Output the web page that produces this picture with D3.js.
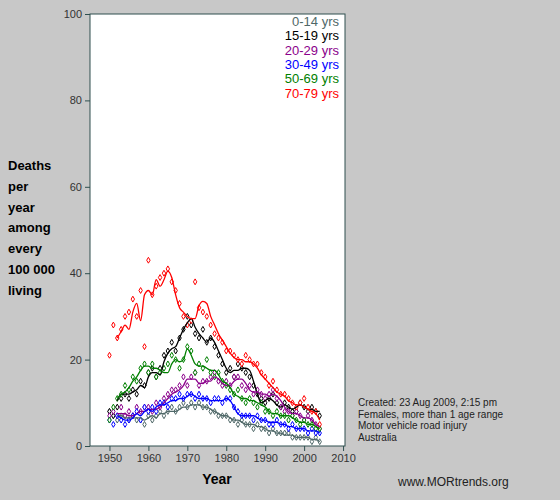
<!DOCTYPE html>
<html lang="en">
<head>
<meta charset="UTF-8">
<script src="https://d3js.org/d3.v7.min.js"></script>
<style>
  body { margin: 0; background: #c8c8c8; font-family: Arial, "Liberation Sans", sans-serif; }
  .tick text { fill: #333; font-size: 11px; }
</style>
</head>
<body>
<svg id="chart" width="560" height="500"></svg>
<script>
const seriesNames = ["0-14 yrs", "15-19 yrs", "20-29 yrs", "30-49 yrs", "50-69 yrs", "70-79 yrs"];
const seriesColors = ["#4f6868", "#000000", "#8b008b", "#0000ff", "#008000", "#ff0000"];

// yearly dots, 1950..2004
const dots0_14  = [8,7,6,7,7,6,7,6,6,5, 7,6,7,8,7, 8,9,8,9,10, 9,10,9,10,9, 9,8,8,7,7, 7,6,6,5,6, 5,5,4,5,4, 4,3,4,3,3, 3,3,2,2,2, 2,2,1,2,1];
const dots15_19 = [8,7,9,11,12,11,13,12,15,14, 17,18,16,18,21, 22,24,22,25,27, 30,28,26,25,27, 24,25,23,21,19, 17,18,16,19,18, 17,16,14,12,11, 10,11,12,10,9, 10,9,8,8,10, 9,8,9,8,7];
const dots20_29 = [7,8,7,9,7,8,7,9,8,9, 9,8,10,9,11, 12,13,13,14,16, 14,16,17,14,15, 15,16,17,15,14, 15,14,16,16,14, 13,14,12,13,12, 11,12,13,11,9, 8,8,7,8,7, 6,7,6,5,4];
const dots30_49 = [6,5,7,6,5,6,7,8,6,9, 8,9,8,10,10, 9,11,11,12,11, 12,12,11,12,11, 11,10,11,11,10, 11,11,9,8,7, 7,7,6,7,6, 6,5,5,6,5, 5,4,5,4,4, 4,3,4,3,3];
const dots50_69 = [6,9,11,12,14,13,16,15,18,19, 17,19,16,17,18, 19,21,20,18,20, 23,22,17,19,18, 20,17,16,17,15, 14,13,12,13,11, 10,11,10,9,10, 8,8,7,8,7, 7,6,7,6,5, 6,5,5,4,4];
const dots70_79 = [21,28,25,27,30,31,34,30,36,23, 43,35,37,39,40, 41,38,36,33,30, 28,29,38,32,31, 30,28,26,25,24, 22,22,21,20,19, 21,20,19,19,17, 16,14,15,13,12, 12,11,10,9,10, 11,9,8,8,5];

// smoothed trend lines, 1952..2004
const line0_14  = [7,7,6.5,6.5,6.5,6.5,6.5,6,6.5,7,6.5,7.5,7.5,8,8,8,8.5,9,9,9.5,9.5,9.5,9,9,8.5,8,7.5,7,7,6.5,6,6,5.5,5,5,5,4.5,4.5,4,3.5,3.5,3,3,2.5,2.5,2.5,2,2,2,2,1.5,1.5,1];
const line15_19 = [10.5,12,12,12,12.5,13,14,13.5,16,17,17,16.5,19.5,21.5,22.5,23,25,27,28.5,29.5,27.5,26,25,24,25,24,22,20,18,17,17.5,17.5,18,18,17.5,15,12,10,10.5,11,10.5,9.5,9,9.5,9,8.5,9,9.5,9,8.5,8.5,8,8];
const line20_29 = [7.5,7.5,7.5,7,7,7.5,8,8,8.5,8.5,8.5,9,10,11,12,12.5,13,14,15.5,15.5,15.5,14.5,14.5,15,15,16,15.5,14.5,14,14,15,15.5,15.5,14.5,13,12.5,12.5,12,12,11.5,12,11.5,10.5,9,8,7.5,7.5,7,6.5,6.5,6,5,4.5];
const line30_49 = [7,6.5,6,6,6.5,7.5,7,8,8.5,8,9,9.5,9.5,10,10.5,10.5,11,11,11.5,12,11.5,11,11,11,10.5,10.5,10.5,10.5,11,10.5,9,7.5,7,7,7,7,6.5,6,6,5.5,5.5,5.5,5,5,4.5,4.5,4,4,4,3.5,3.5,3.5,3];
const line50_69 = [11,12,12.5,13.5,15,16,17.5,18.5,18.5,18,18,17.5,17,17,19,20,19.5,20,22.5,21,19,18.5,18.5,18,17.5,17.5,16.5,15,14.5,13.5,12,11.5,11,11,10.5,10.5,10,9.5,9,8,7.5,7.5,7,7,7,6.5,6,5.5,5.5,5,5,4.5,4];
const line70_79 = [25,26.5,28,27,31,33,29,35,36,35,38.5,37,38.5,40.5,39,35,32,31,30,29.5,29.5,32.5,33.5,33,30,28,26,24.5,23,21.5,20.5,20,20,19.5,19.5,19,18,16.5,15.5,14.5,13.5,12.5,12,11.5,10.5,10,9.5,9.5,9,8.5,8,7.5,6];

const allDots = [dots0_14, dots15_19, dots20_29, dots30_49, dots50_69, dots70_79];
const allLines = [line0_14, line15_19, line20_29, line30_49, line50_69, line70_79];
const xTicks = [1950, 1960, 1970, 1980, 1990, 2000, 2010];
const yTicks = [0, 20, 40, 60, 80, 100];
const yLabel = ["Deaths", "per", "year", "among", "every", "100 000", "living"];
const notes = ["Created: 23 Aug 2009, 2:15 pm", "Females, more than 1 age range", "Motor vehicle road injury", "Australia"];

const svg = d3.select("#chart");
const pLeft = 90, pRight = 345, pTop = 14, pBottom = 446;
const x = d3.scaleLinear().domain([1945, 2010.5]).range([pLeft, pRight]);
const y = d3.scaleLinear().domain([0, 100]).range([pBottom, pTop]);

svg.append("rect").attr("x", pLeft).attr("y", pTop)
    .attr("width", pRight - pLeft).attr("height", pBottom - pTop)
    .attr("fill", "white").attr("stroke", "#2f4f4f");

const xAxis = svg.append("g").attr("transform", `translate(0,${pBottom})`)
    .call(d3.axisBottom(x).tickValues(xTicks).tickFormat(d3.format("d")).tickSize(5));
const yAxis = svg.append("g").attr("transform", `translate(${pLeft},0)`)
    .call(d3.axisLeft(y).tickValues(yTicks).tickSize(5));
[xAxis, yAxis].forEach(a => {
    a.select(".domain").remove();
    a.selectAll(".tick line").attr("stroke", "#2f4f4f");
});

const line = d3.line().x((d, i) => x(1952 + i)).y(d => y(d)).curve(d3.curveMonotoneX);
const diamond = d3.symbol().type(d3.symbolDiamond).size(10);

allDots.forEach((arr, s) => {
    svg.append("g").selectAll("path").data(arr).join("path")
        .attr("transform", (d, i) => `translate(${x(1950 + i)},${y(d)})`)
        .attr("d", diamond)
        .attr("fill", "white")
        .attr("stroke", seriesColors[s])
        .attr("stroke-width", 1);
});
allLines.forEach((arr, s) => {
    svg.append("path").datum(arr)
        .attr("d", line)
        .attr("fill", "none")
        .attr("stroke", seriesColors[s])
        .attr("stroke-width", 1.3);
});

// legend
seriesNames.forEach((n, i) => {
    svg.append("text").attr("x", 339).attr("y", 26 + i * 14.3)
        .attr("text-anchor", "end").attr("font-size", 13)
        .attr("fill", seriesColors[i]).text(n);
});

svg.append("text").attr("x", 217).attr("y", 484).attr("text-anchor", "middle")
    .attr("font-size", 14).attr("font-weight", "bold").text("Year");

yLabel.forEach((t, i) => {
    svg.append("text").attr("x", 8).attr("y", 170 + i * 20.8)
        .attr("font-size", 13).attr("font-weight", "bold").text(t);
});

notes.forEach((t, i) => {
    svg.append("text").attr("x", 358).attr("y", 406 + i * 11.5)
        .attr("font-size", 10).attr("fill", "#222").text(t);
});
svg.append("text").attr("x", 398).attr("y", 486)
    .attr("font-size", 12).attr("fill", "#222").text("www.MORtrends.org");
</script>
</body>
</html>
